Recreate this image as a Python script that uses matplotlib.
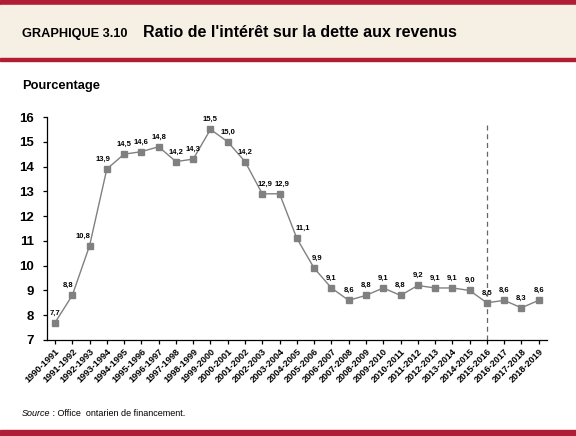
import matplotlib
matplotlib.use("Agg")
import matplotlib.pyplot as plt
from matplotlib import font_manager
from matplotlib.patches import Rectangle

# ============================
# Données
# ============================
years = ["1990-1991", "1991-1992", "1992-1993", "1993-1994", "1994-1995",
         "1995-1996", "1996-1997", "1997-1998", "1998-1999", "1999-2000",
         "2000-2001", "2001-2002", "2002-2003", "2003-2004", "2004-2005",
         "2005-2006", "2006-2007", "2007-2008", "2008-2009", "2009-2010",
         "2010-2011", "2011-2012", "2012-2013", "2013-2014", "2014-2015",
         "2015-2016", "2016-2017", "2017-2018", "2018-2019"]
ratio = [7.7, 8.8, 10.8, 13.9, 14.5, 14.6, 14.8, 14.2, 14.3, 15.5,
         15.0, 14.2, 12.9, 12.9, 11.1, 9.9, 9.1, 8.6, 8.8, 9.1,
         8.8, 9.2, 9.1, 9.1, 9.0, 8.5, 8.6, 8.3, 8.6]
forecast_start = "2015-2016"
y_ticks = [7, 8, 9, 10, 11, 12, 13, 14, 15, 16]

# ============================
# Police
# ============================
names = {f.name for f in font_manager.fontManager.ttflist}
narrow = "Liberation Sans Narrow" if "Liberation Sans Narrow" in names else "Liberation Sans"
plt.rcParams["font.family"] = [narrow, "DejaVu Sans"]

RED = "#B01E35"
BEIGE = "#F6EFE3"
GREY = "#808080"

fig = plt.figure(figsize=(5.76, 4.36), dpi=100)
W, H = 576.0, 436.0

# bandeau du titre + filets rouges
fig.patches.append(Rectangle((0, 1 - 5 / H), 1, 5 / H, transform=fig.transFigure,
                             color=RED, zorder=0))
fig.patches.append(Rectangle((0, 1 - 58 / H), 1, 53 / H, transform=fig.transFigure,
                             color=BEIGE, zorder=0))
fig.patches.append(Rectangle((0, 1 - 61 / H), 1, 3 / H, transform=fig.transFigure,
                             color=RED, zorder=0))
fig.patches.append(Rectangle((0, 0), 1, 6 / H, transform=fig.transFigure,
                             color=RED, zorder=0))

fig.text(22 / W, 1 - 36.5 / H, "GRAPHIQUE 3.10", fontsize=9.2, fontweight="bold",
         va="baseline", ha="left")
fig.text(143 / W, 1 - 36.7 / H, "Ratio de l'intérêt sur la dette aux revenus",
         fontsize=11.5, fontweight="bold", va="baseline", ha="left")
fig.text(22 / W, 1 - 89.5 / H, "Pourcentage", fontsize=9.3, fontweight="bold",
         va="baseline", ha="left")

# source : "Source" en italique, suite collée juste après
src = fig.text(22 / W, 1 - 416 / H, "Source", fontsize=6.5, style="italic",
               va="baseline", ha="left")
fig.canvas.draw()
ext = src.get_window_extent()
fig.text(ext.x1 / W, 1 - 416 / H, " : Office  ontarien de financement.", fontsize=6.5,
         va="baseline", ha="left")

# ============================
# Graphique
# ============================
ax = fig.add_axes([46.7 / W, 1 - 340 / H, (547 - 46.7) / W, (340 - 117) / H])
x = list(range(len(years)))
ax.plot(x, ratio, color=GREY, linewidth=1.0, marker="s", markersize=4.3,
        markerfacecolor=GREY, markeredgecolor=GREY, zorder=3)

# décalages horizontaux des étiquettes (en points)
nudge = {1: -3, 2: -5, 3: -3, 12: 2, 13: 2, 14: 4, 15: 2}
for i, v in enumerate(ratio):
    ax.annotate(f"{v:.1f}".replace(".", ","), (x[i], v),
                xytext=(nudge.get(i, 0), 4.5), textcoords="offset points",
                ha="center", va="bottom", fontsize=5.5, fontweight="bold")

fx = years.index(forecast_start)
ax.axvline(fx, ymin=0, ymax=(15.7 - 7) / 9, color="#666666", linewidth=0.9,
           linestyle=(0, (4, 3)), zorder=2)

ax.set_xlim(-0.48, len(years) - 0.52)
ax.set_ylim(7, 16)
ax.set_yticks(y_ticks)
ax.set_xticks(x)
ax.set_xticklabels(years, rotation=45, ha="right", rotation_mode="anchor",
                   fontsize=6.6, fontweight="bold")
for lab in ax.get_yticklabels():
    lab.set_fontweight("bold")
ax.tick_params(axis="y", labelsize=9.5, length=3, width=0.9, pad=6)
ax.tick_params(axis="x", length=3, width=0.9, pad=2)
for s in ["top", "right"]:
    ax.spines[s].set_visible(False)
for s in ["left", "bottom"]:
    ax.spines[s].set_linewidth(0.9)

fig.savefig("out.png", dpi=100)
